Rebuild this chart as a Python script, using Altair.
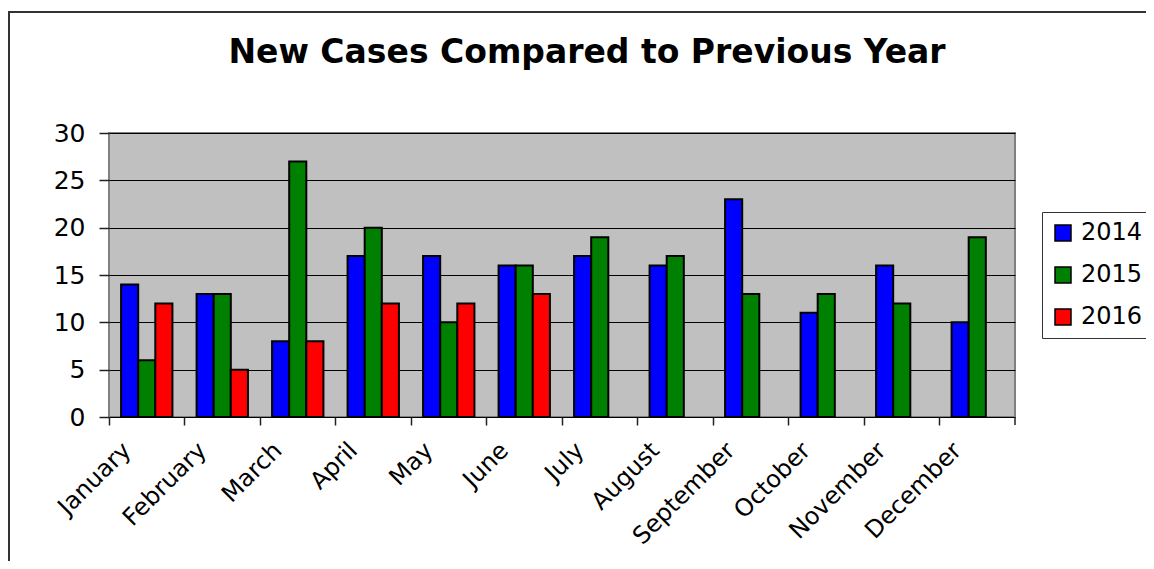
import altair as alt
import pandas as pd

months = ["January", "February", "March", "April", "May", "June",
          "July", "August", "September", "October", "November", "December"]
years = ["2014", "2015", "2016"]
v2014 = [14, 13, 8, 17, 17, 16, 17, 16, 23, 11, 16, 10]
v2015 = [6, 13, 27, 20, 10, 16, 19, 17, 13, 13, 12, 19]
v2016 = [12, 5, 8, 12, 12, 13, None, None, None, None, None, None]
colors = ["#0000FF", "#008000", "#FF0000"]
title_text = "New Cases Compared to Previous Year"
y_ticks = [0, 5, 10, 15, 20, 25, 30]

rows = []
for yr, vals in zip(years, [v2014, v2015, v2016]):
    for m, v in zip(months, vals):
        if v is not None:
            rows.append({"month": m, "year": yr, "cases": v})
df = pd.DataFrame(rows)

FONT = "DejaVu Sans"

bars = alt.Chart(df).mark_bar(stroke="black", strokeWidth=2).encode(
    x=alt.X("month:N", sort=months,
            scale=alt.Scale(domain=months, paddingInner=0.32, paddingOuter=0.16),
            axis=alt.Axis(title=None, labelAngle=-45, labelAlign="right",
                          labelBaseline="top", bandPosition=-0.235, labelOffset=-28,
                          labelPadding=13, tickSize=8, tickColor="#222",
                          tickWidth=1.5, domain=False, labelFont=FONT,
                          labelFontSize=24, labelColor="black")),
    xOffset=alt.XOffset("year:N", scale=alt.Scale(domain=years, paddingInner=0, paddingOuter=0)),
    y=alt.Y("cases:Q", scale=alt.Scale(domain=[0, 30], nice=False),
            axis=alt.Axis(title=None, values=y_ticks, tickSize=10, tickColor="#222",
                          tickWidth=1.5, labelPadding=14, domain=False,
                          gridColor="black", gridWidth=1, labelFont=FONT,
                          labelFontSize=25, labelColor="black")),
    color=alt.Color("year:N", scale=alt.Scale(domain=years, range=colors),
                    legend=alt.Legend(title=None, orient="none", legendX=933, legendY=79,
                                      padding=9, strokeColor="#333", fillColor="white",
                                      symbolType="square", symbolSize=256,
                                      symbolStrokeColor="black", symbolStrokeWidth=1.5,
                                      labelFont=FONT, labelFontSize=24, labelOffset=6,
                                      rowPadding=18, labelColor="black")),
)

frame_data = alt.Data(values=[{"k": 1}])
top_border = alt.Chart(frame_data).mark_rule(color="#333", strokeWidth=2).encode(
    x=alt.value(-101), x2=alt.value(1037), y=alt.value(-121))
left_border = alt.Chart(frame_data).mark_rule(color="#333", strokeWidth=2).encode(
    x=alt.value(-100), y=alt.value(-121), y2=alt.value(430))
end_tick = alt.Chart(frame_data).mark_rule(color="#222", strokeWidth=1.5).encode(
    x=alt.value(906), y=alt.value(284), y2=alt.value(292))

chart = alt.layer(bars, top_border, left_border, end_tick).properties(
    width=906, height=284,
    padding={"left": 101, "top": 125, "right": 131, "bottom": 144},
    autosize=alt.AutoSizeParams(type="none"),
    background="white",
    title=alt.TitleParams(text=title_text, font=FONT, fontSize=33, fontWeight="bold",
                          color="black", anchor="middle", frame="group",
                          baseline="alphabetic", offset=0, dx=25, dy=85),
).configure_view(fill="#C0C0C0", stroke="#808080", strokeWidth=2)

chart.save("out.html", embed_options={"renderer": "svg", "actions": False})
